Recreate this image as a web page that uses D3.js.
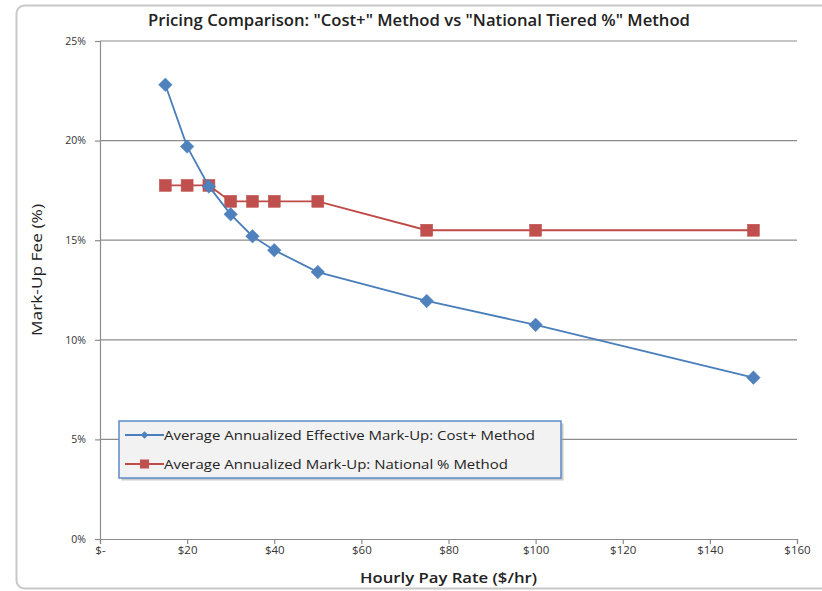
<!DOCTYPE html>
<html>
<head>
<meta charset="utf-8">
<script src="https://cdn.jsdelivr.net/npm/d3@7"></script>
<style>
  html, body { margin: 0; padding: 0; background: #fff; }
  svg { display: block; }
  text { font-family: "Open Sans", "Liberation Sans", sans-serif; }
</style>
</head>
<body>
<svg id="chart" width="822" height="591"></svg>
<script>
// Hourly pay rates ($/hr) for each sampled point
const payRates = [15, 20, 25, 30, 35, 40, 50, 75, 100, 150];
// Average annualized effective mark-up, Cost+ method (fraction)
const costPlus = [0.228, 0.197, 0.177, 0.163, 0.152, 0.145, 0.134, 0.1195, 0.1075, 0.081];
// Average annualized mark-up, National tiered % method (fraction)
const national = [0.1775, 0.1775, 0.1775, 0.1695, 0.1695, 0.1695, 0.1695, 0.155, 0.155, 0.155];

const seriesNames = [
  "Average Annualized Effective Mark-Up: Cost+ Method",
  "Average Annualized Mark-Up: National % Method"
];
const xTicks = [0, 20, 40, 60, 80, 100, 120, 140, 160];
const yTicks = [0, 0.05, 0.10, 0.15, 0.20, 0.25];
const titleText = 'Pricing Comparison: "Cost+" Method vs "National Tiered %" Method';
const xTitle = "Hourly Pay Rate ($/hr)";
const yTitle = "Mark-Up Fee (%)";

const svg = d3.select("#chart");
const plot = { left: 100, right: 797, top: 41, bottom: 539 };

const x = d3.scaleLinear().domain([0, 160]).range([plot.left, plot.right]);
const y = d3.scaleLinear().domain([0, 0.25]).range([plot.bottom, plot.top]);

// Outer chart frame (rounded, light grey)
svg.append("rect")
  .attr("x", 16.5).attr("y", 5.5)
  .attr("width", 820).attr("height", 583)
  .attr("rx", 8)
  .attr("fill", "#fff")
  .attr("stroke", "#c8c8c8")
  .attr("stroke-width", 2);

// Title
svg.append("text")
  .attr("x", 148).attr("y", 26)
  .attr("font-size", 16)
  .attr("font-weight", 600)
  .attr("fill", "#222")
  .attr("textLength", 542)
  .attr("lengthAdjust", "spacingAndGlyphs")
  .text(titleText);

// Horizontal gridlines
svg.append("g")
  .selectAll("line")
  .data(yTicks.filter(d => d > 0))
  .join("line")
  .attr("x1", plot.left).attr("x2", plot.right)
  .attr("y1", d => y(d)).attr("y2", d => y(d))
  .attr("stroke", "#8c8c8c")
  .attr("stroke-width", 1.2);

// Y axis
const yAxis = d3.axisLeft(y)
  .tickValues(yTicks)
  .tickSize(5)
  .tickPadding(9)
  .tickFormat(d3.format(".0%"));
const gy = svg.append("g")
  .attr("transform", `translate(${plot.left},0)`)
  .call(yAxis);
gy.select(".domain").attr("stroke", "#8c8c8c").attr("stroke-width", 1.2);
gy.selectAll(".tick line").attr("stroke", "#8c8c8c").attr("stroke-width", 1.2);
gy.selectAll(".tick text")
  .attr("font-size", 10.5)
  .attr("fill", "#333");

// X axis
const xAxis = d3.axisBottom(x)
  .tickValues(xTicks)
  .tickSize(5)
  .tickPadding(2)
  .tickFormat(d => d === 0 ? "$-" : "$" + d);
const gx = svg.append("g")
  .attr("transform", `translate(0,${plot.bottom})`)
  .call(xAxis);
gx.select(".domain").attr("stroke", "#8c8c8c").attr("stroke-width", 1.2);
gx.selectAll(".tick line").attr("stroke", "#8c8c8c").attr("stroke-width", 1.2);
gx.selectAll(".tick text")
  .attr("font-size", 11.5)
  .attr("fill", "#333");

// Axis titles
svg.append("text")
  .attr("x", 360).attr("y", 583)
  .attr("font-size", 15)
  .attr("font-weight", 600)
  .attr("fill", "#222")
  .attr("textLength", 177)
  .attr("lengthAdjust", "spacingAndGlyphs")
  .text(xTitle);

svg.append("text")
  .attr("transform", `translate(42,336) rotate(-90)`)
  .attr("font-size", 14.5)
  .attr("fill", "#222")
  .attr("textLength", 132)
  .attr("lengthAdjust", "spacingAndGlyphs")
  .text(yTitle);

// Series
const series = [
  { name: seriesNames[0], values: costPlus, line: "#4a7ebb", fill: "#4f81bd", shape: "diamond", width: 371 },
  { name: seriesNames[1], values: national, line: "#be4b48", fill: "#c0504d", shape: "square", width: 344 }
];

function drawMarker(g, shape, color) {
  if (shape === "diamond") {
    g.append("path")
      .attr("d", d3.symbol().type(d3.symbolSquare).size(92)())
      .attr("transform", "rotate(45)")
      .attr("fill", color)
      .attr("stroke", color).attr("stroke-width", 0.5);
  } else {
    g.append("rect")
      .attr("x", -6).attr("y", -6)
      .attr("width", 12).attr("height", 12)
      .attr("fill", color)
      .attr("stroke", color).attr("stroke-width", 0.5);
  }
}

const lineGen = d3.line()
  .x((d, i) => x(payRates[i]))
  .y(d => y(d));

// Draw the national series first so the cost+ line sits on top
[series[1], series[0]].forEach(s => {
  svg.append("path")
    .datum(s.values)
    .attr("d", lineGen)
    .attr("fill", "none")
    .attr("stroke", s.line)
    .attr("stroke-width", 1.8);
  svg.append("g")
    .selectAll("g")
    .data(s.values)
    .join("g")
    .attr("transform", (d, i) => `translate(${x(payRates[i])},${y(d)})`)
    .each(function () { drawMarker(d3.select(this), s.shape, s.fill); });
});

// Legend
const legend = svg.append("g").attr("transform", "translate(119,421)");
legend.append("rect")
  .attr("x", 2.5).attr("y", 2.5)
  .attr("width", 442).attr("height", 57)
  .attr("fill", "#a8a8a8")
  .attr("opacity", 0.6);
legend.append("rect")
  .attr("width", 442).attr("height", 57)
  .attr("fill", "#f2f2f2")
  .attr("stroke", "#5b8cc8")
  .attr("stroke-width", 1.5);

series.forEach((s, i) => {
  const row = legend.append("g").attr("transform", `translate(0,${14 + i * 29})`);
  row.append("line")
    .attr("x1", 6).attr("x2", 45)
    .attr("stroke", s.line).attr("stroke-width", 1.8);
  const m = row.append("g").attr("transform", "translate(25.5,0)");
  if (s.shape === "diamond") {
    m.append("path")
      .attr("d", d3.symbol().type(d3.symbolSquare).size(30)())
      .attr("transform", "rotate(45)")
      .attr("fill", s.fill);
  } else {
    m.append("rect").attr("x", -4.5).attr("y", -4.5).attr("width", 9).attr("height", 9).attr("fill", s.fill);
  }
  row.append("text")
    .attr("x", 45).attr("y", 4.5)
    .attr("font-size", 12.5)
    .attr("fill", "#222")
    .attr("textLength", s.width)
    .attr("lengthAdjust", "spacingAndGlyphs")
    .text(s.name);
});
</script>
</body>
</html>
